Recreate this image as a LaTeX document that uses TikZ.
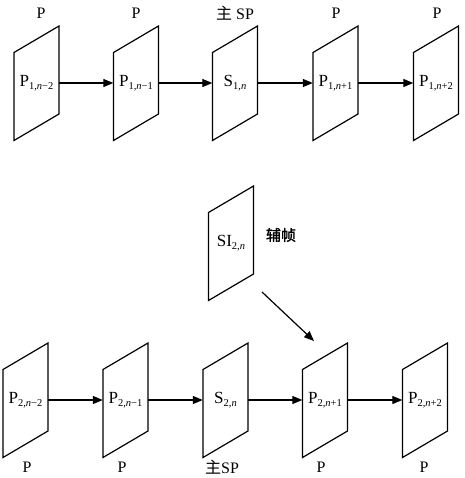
\documentclass[tikz,border=0pt]{standalone}
\usepackage{fontspec}
\setmainfont{Liberation Serif}
\newfontfamily\cjk{Noto Sans CJK SC}
\newfontfamily\cjkb[FakeBold=1.5]{Noto Sans CJK SC}
\usetikzlibrary{arrows.meta}
\newcommand{\sbx}[1]{\raisebox{-0.35ex}{\fontsize{10.5}{10.5}\selectfont #1}}
\begin{document}
\begin{tikzpicture}[x=1pt,y=-1pt,
  frm/.style={minimum width=45pt,minimum height=40pt,inner sep=0pt,font=\fontsize{17}{17}\selectfont},
  lbl/.style={inner sep=0pt,font=\fontsize{16}{16}\selectfont},
  conn/.style={line width=1.2pt,-{Triangle[length=10pt,width=8pt]}},
  edge/.style={line width=1.2pt}]
\useasboundingbox (0,0) rectangle (464,478);
\newcommand{\plate}[1]{\draw[edge] ([shift={(-22.5,-30.5)}]#1.center) -- ([shift={(22.5,-57)}]#1.center) -- ([shift={(22.5,31)}]#1.center) -- ([shift={(-22.5,57.5)}]#1.center) -- cycle;}
% top row
\node[frm] (a1) at (36.5,83) {P\sbx{1,\textit{n}−2}};
\node[frm] (a2) at (136,83) {P\sbx{1,\textit{n}−1}};
\node[frm] (a3) at (235,83) {S\sbx{1,\textit{n}}};
\node[frm] (a4) at (335.5,83) {P\sbx{1,\textit{n}+1}};
\node[frm] (a5) at (436,83) {P\sbx{1,\textit{n}+2}};
\foreach \n in {a1,a2,a3,a4,a5} {\plate{\n}}
\node[lbl] (ta1) at (41,13) {P};
\node[lbl] (ta2) at (136,13) {P};
\node[lbl] (ta3) at (235,13) {{\cjk 主} SP};
\node[lbl] (ta4) at (336,13) {P};
\node[lbl] (ta5) at (437,13) {P};
\draw[conn] (a1.east) -- (a2.west);
\draw[conn] (a2.east) -- (a3.west);
\draw[conn] (a3.east) -- (a4.west);
\draw[conn] (a4.east) -- (a5.west);
% auxiliary frame
\node[frm] (si) at (231,243) {SI\sbx{2,\textit{n}}};
\plate{si}
\node[lbl,font=\cjkb\fontsize{15}{15}\selectfont] (fz) at (281,235) {辅帧};
% bottom row
\node[frm] (b1) at (25.5,400) {P\sbx{2,\textit{n}−2}};
\node[frm] (b2) at (125.5,400) {P\sbx{2,\textit{n}−1}};
\node[frm] (b3) at (225.5,400) {S\sbx{2,\textit{n}}};
\node[frm] (b4) at (325,400) {P\sbx{2,\textit{n}+1}};
\node[frm] (b5) at (425,400) {P\sbx{2,\textit{n}+2}};
\foreach \n in {b1,b2,b3,b4,b5} {\plate{\n}}
\node[lbl] (tb1) at (27,467) {P};
\node[lbl] (tb2) at (122,467) {P};
\node[lbl] (tb3) at (222,467) {{\cjk 主}SP};
\node[lbl] (tb4) at (321,467) {P};
\node[lbl] (tb5) at (424,467) {P};
\draw[conn] (b1.east) -- (b2.west);
\draw[conn] (b2.east) -- (b3.west);
\draw[conn] (b3.east) -- (b4.west);
\draw[conn] (b4.east) -- (b5.west);
\coordinate (ds) at (262,292);
\coordinate (de) at (314,341);
\draw[conn] (ds) -- (de);
\end{tikzpicture}
\end{document}
